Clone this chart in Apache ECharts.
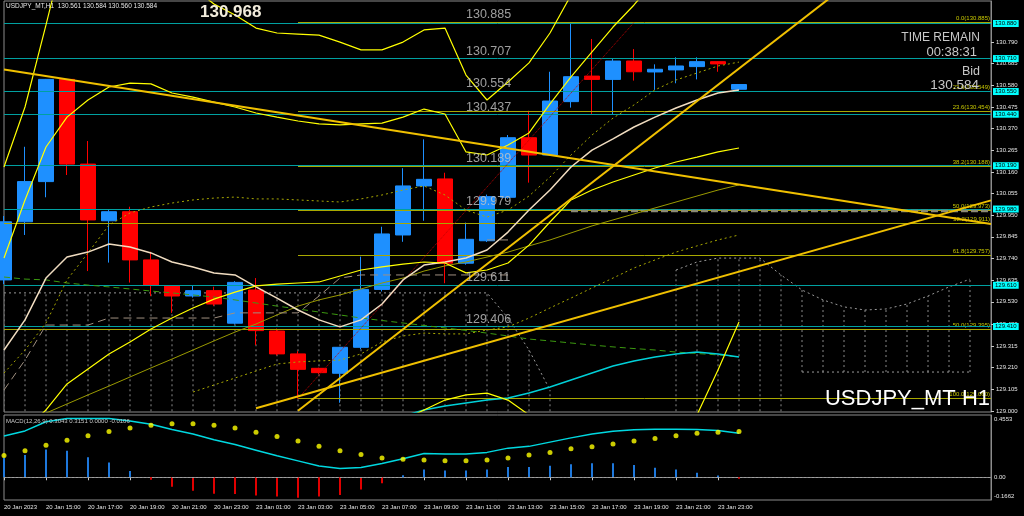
<!DOCTYPE html>
<html><head><meta charset="utf-8">
<script src="https://cdn.jsdelivr.net/npm/echarts@6/dist/echarts.min.js"></script>
<style>html,body{margin:0;padding:0;background:#000;}#c{width:1024px;height:516px;}</style>
</head><body><div id="c"></div>
<script>
// ---------- categories (H1 bars + future slots) ----------
const categories = ['20 Jan 2023','20 Jan 14:00','20 Jan 15:00','20 Jan 16:00','20 Jan 17:00','20 Jan 18:00','20 Jan 19:00','20 Jan 20:00','20 Jan 21:00','20 Jan 22:00','20 Jan 23:00','23 Jan 00:00','23 Jan 01:00','23 Jan 02:00','23 Jan 03:00','23 Jan 04:00','23 Jan 05:00','23 Jan 06:00','23 Jan 07:00','23 Jan 08:00','23 Jan 09:00','23 Jan 10:00','23 Jan 11:00','23 Jan 12:00','23 Jan 13:00','23 Jan 14:00','23 Jan 15:00','23 Jan 16:00','23 Jan 17:00','23 Jan 18:00','23 Jan 19:00','23 Jan 20:00','23 Jan 21:00','23 Jan 22:00','23 Jan 23:00','24 Jan 00:00','+1','+2','+3','+4','+5','+6','+7','+8','+9','+10','+11','+12'];

// ---------- OHLC ----------
const opens  = [129.636,129.918,130.113,130.609,130.198,129.923,129.967,129.733,129.607,129.558,129.584,129.426,129.587,129.388,129.277,129.207,129.183,129.309,129.590,129.854,130.092,130.126,129.717,129.826,130.037,130.326,130.242,130.501,130.625,130.609,130.698,130.645,130.655,130.671,130.695,130.561];
const closes = [129.918,130.113,130.609,130.198,129.927,129.967,129.733,129.611,129.558,129.584,129.519,129.624,129.390,129.277,129.202,129.186,129.309,129.590,129.859,130.092,130.124,129.717,129.833,130.040,130.326,130.242,130.504,130.622,130.609,130.698,130.646,130.658,130.674,130.695,130.684,130.584];
const lows   = [129.616,129.854,130.037,130.145,129.679,129.720,129.623,129.558,129.476,129.550,129.510,129.420,129.320,129.270,129.060,129.180,129.040,129.300,129.580,129.821,129.923,129.620,129.710,129.820,130.030,130.108,130.240,130.472,130.440,130.440,130.603,130.558,130.590,130.609,130.646,130.560];
const highs  = [129.946,130.282,130.611,130.611,130.310,129.975,129.991,129.773,129.611,129.611,129.603,129.630,129.645,129.400,129.290,129.210,129.310,129.749,129.894,130.178,130.318,130.156,129.914,130.050,130.339,130.457,130.646,130.885,130.805,130.711,130.756,130.682,130.716,130.716,130.697,130.584];

// ---------- indicator lines (price) ----------
const maBeige   = [129.296,129.442,129.645,129.747,129.771,129.810,129.796,129.767,129.723,129.699,129.670,129.660,129.602,129.548,129.490,129.442,129.408,129.442,129.519,129.636,129.708,129.723,129.742,129.781,129.868,129.975,130.072,130.184,130.266,130.320,130.378,130.426,130.470,130.509,130.543,130.558];
const dotUpper  = [129.184,129.296,129.427,129.636,129.767,129.902,129.961,129.990,130.009,130.024,130.033,130.038,130.029,130.029,130.024,130.019,130.014,130.029,130.048,130.072,130.092,130.048,129.975,129.941,129.975,130.043,130.135,130.242,130.339,130.421,130.485,130.558,130.606,130.640,130.674,130.693];
const bandOuterUp = [130.184,130.475,130.873,131.285,131.382,131.382,131.334,131.261,131.164,131.052,130.975,130.921,130.858,130.834,130.829,130.824,130.790,130.752,130.752,130.790,130.849,130.858,130.630,130.509,130.596,130.689,130.834,131.018,131.200,131.350,131.450,131.500,131.500,131.500,131.500,131.500];
const bandUp    = [129.742,130.024,130.281,130.426,130.509,130.572,130.591,130.587,130.543,130.523,130.499,130.475,130.446,130.426,130.407,130.393,130.388,130.393,130.397,130.426,130.465,130.441,130.257,130.242,130.291,130.349,130.490,130.621,130.742,130.863,130.970,131.091,131.200,131.300,131.400,131.500];
const bandLow   = [128.835,128.908,129.005,129.131,129.204,129.277,129.335,129.398,129.451,129.500,129.543,129.577,129.607,129.616,129.621,129.626,129.655,129.684,129.699,129.713,129.723,129.718,129.670,129.684,129.718,129.805,129.917,130.024,130.072,130.111,130.145,130.179,130.208,130.232,130.257,130.276];
const bandOuterLow = [null,null,null,null,null,null,null,null,null,null,null,null,null,null,null,null,null,null,null,128.956,129.005,129.053,129.078,129.087,129.053,128.981,128.908,128.850,128.830,128.830,128.830,128.840,128.870,128.981,129.199,129.432];
const greenDash = [129.650,129.640,129.636,129.621,129.611,129.602,129.592,129.582,129.573,129.563,129.553,129.539,129.524,129.509,129.495,129.480,129.466,129.451,129.439,129.427,129.415,129.403,129.391,129.378,129.364,129.349,129.340,129.330,129.320,129.311,129.303,129.296,129.286,129.279,129.272,129.262];
const cyanMA    = [null,null,null,null,null,null,null,null,null,null,null,null,null,null,null,null,null,128.910,128.940,128.975,129.005,129.024,129.039,129.053,129.063,129.087,129.116,129.150,129.184,129.218,129.243,129.262,129.277,129.286,129.277,129.262];
const oliveLine = [null,null,128.990,129.034,129.078,129.121,129.165,129.209,129.252,129.296,129.340,129.383,129.422,129.466,129.509,129.539,129.563,129.592,129.621,129.645,129.679,129.704,129.723,129.747,129.771,129.801,129.830,129.864,129.898,129.927,129.956,129.985,130.014,130.043,130.072,130.097];
const dotLower  = [null,null,null,null,null,null,null,null,null,129.092,129.126,129.160,129.194,129.228,129.238,129.243,129.247,129.277,129.335,129.364,129.378,129.374,129.374,129.393,129.408,129.451,129.500,129.548,129.597,129.645,129.694,129.733,129.771,129.801,129.830,129.854];
const kijunDash = [129.102,129.247,129.417,129.417,129.417,129.451,129.451,129.451,129.451,129.451,129.451,129.476,129.476,129.476,129.476,129.558,129.645,129.660,129.660,129.660,129.660,129.660,129.660,129.660,129.660];
const tenkanDash = [null,null,null,null,null,null,null,null,null,null,null,null,null,null,null,null,null,null,null,null,null,null,null,129.830,129.830];
const cloudTop    = [129.573,129.573,129.573,129.573,129.573,129.573,129.573,129.573,129.573,129.573,129.573,129.573,129.573,129.573,129.573,129.573,129.573,129.573,129.573,129.573,129.573,129.573,129.573,129.573,129.451,129.296,129.102,null,null,null,null,null,129.684,129.723,129.742,129.742,129.742,129.660,129.587,129.539,129.505,129.490,129.495,129.519,129.558,129.602,129.640];
const cloudBottom = [128.950,128.950,128.950,128.950,128.950,128.950,128.950,128.950,128.950,128.950,128.950,128.950,128.950,128.950,128.950,128.950,128.950,128.950,128.950,128.950,128.950,128.950,128.950,128.950,128.950,128.950,128.950,null,null,null,null,null,128.950,128.950,128.950,128.950,128.950,128.950,129.189,129.189,129.189,129.189,129.189,129.189,129.189,129.189,129.189];

// ---------- trend lines: [index, price] end points ----------
const trendDown  = [[0,130.657],[47,129.907]];
const trendSteep = [[14,129.001],[40,131.057]];
const trendGentle= [[12,129.013],[47,130.022]];
const grayDashBand = [[27,129.970],[47,129.970]];

// ---------- horizontal levels ----------
const levels = [130.885,130.707,130.554,130.437,130.189,129.979,129.611,129.406];
const bidPrice = 130.584;
const fibAPct = [0.0,23.6,38.2,50.0,61.8,100.0];
const fibAPrice = [130.885,130.454,130.188,129.973,129.757,129.060];
const fibBPct = [23.6,38.2,50.0];
const fibBPrice = [130.549,129.911,129.395];
const fibAStart = 14, fibAEndIdx = 30;
const levelTextIdx = 22;

// ---------- price axis tick labels ----------
const priceTicks = [129.000,129.105,129.210,129.315,129.420,129.530,129.635,129.740,129.845,129.950,130.055,130.160,130.265,130.370,130.475,130.580,130.685,130.790];

// ---------- MACD ----------
const macdHist = [0.141,0.162,0.203,0.193,0.147,0.108,0.046,-0.018,-0.069,-0.098,-0.121,-0.123,-0.134,-0.141,-0.149,-0.141,-0.129,-0.090,-0.044,0.015,0.057,0.049,0.049,0.057,0.075,0.075,0.085,0.095,0.103,0.103,0.090,0.069,0.057,0.033,0.013,-0.0106];
const macdLine = [0.301,0.339,0.406,0.429,0.429,0.429,0.411,0.388,0.350,0.316,0.275,0.239,0.198,0.157,0.120,0.082,0.064,0.072,0.100,0.136,0.174,0.170,0.170,0.182,0.213,0.226,0.257,0.288,0.316,0.336,0.347,0.352,0.352,0.350,0.342,0.321];
const macdSignal = [0.159,0.193,0.234,0.270,0.303,0.334,0.360,0.380,0.391,0.391,0.380,0.360,0.329,0.298,0.265,0.226,0.193,0.167,0.141,0.131,0.126,0.121,0.121,0.126,0.141,0.162,0.182,0.208,0.224,0.244,0.265,0.283,0.303,0.321,0.329,0.334];
const macdTicks = [0.4553,0,-0.1662];

// ================= build =================
const FONT = "'Liberation Sans', Arial, sans-serif";
const chart = echarts.init(document.getElementById('c'), null, {renderer:'canvas'});
const candleData = opens.map((o,i)=>[o, closes[i], lows[i], highs[i]]);
const lblIdx = (i)=> i % 2 === 0 && i <= 34;

function lineS(data, color, width, type, z, extra){
  return Object.assign({type:'line', xAxisIndex:0, yAxisIndex:0, data:data, symbol:'none', showSymbol:false,
    silent:true, animation:false, z:z||5, lineStyle:{color:color, width:width, type:type||'solid'}}, extra||{});
}

const hatchData = [];
cloudTop.forEach((t,i)=>{ if(t!=null && cloudBottom[i]!=null) hatchData.push([i, cloudBottom[i], t]); });

const fibLines = [];
fibAPrice.forEach((p,k)=>{
  fibLines.push([{coord:[fibAStart,p], name: fibAPct[k].toFixed(1)+'('+p.toFixed(3)+')'},{coord:[47,p]}]);
});
fibBPrice.forEach((p,k)=>{
  fibLines.push([{coord:[0,p], name: fibBPct[k].toFixed(1)+'('+p.toFixed(3)+')'},{coord:[47,p]}]);
});

const levelMarks = levels.map(v=>({yAxis:v}));
levelMarks.push({yAxis:bidPrice, lineStyle:{opacity:0}, label:{backgroundColor:'#ffffff'}});

const option = {
  backgroundColor:'#000000',
  animation:false,
  grid:[
    {left:4, top:1, width:987, height:411, show:true, borderColor:'#8c8c8c', borderWidth:1, backgroundColor:'transparent'},
    {left:4, top:415, width:987, height:85, show:true, borderColor:'#8c8c8c', borderWidth:1, backgroundColor:'transparent'}
  ],
  xAxis:[
    {type:'category', gridIndex:0, data:categories, boundaryGap:false,
     axisLine:{show:false}, axisTick:{show:false}, axisLabel:{show:false}, splitLine:{show:false}},
    {type:'category', gridIndex:1, data:categories, boundaryGap:false,
     axisLine:{show:true, lineStyle:{color:'#8c8c8c'}},
     axisTick:{show:true, interval:lblIdx, length:3, lineStyle:{color:'#c8c8c8'}},
     axisLabel:{interval:lblIdx, align:'left', color:'#e6e6e6', fontSize:6, fontFamily:FONT, margin:4,
       formatter:(v)=> v.charAt(0)==='+' ? '' : v},
     splitLine:{show:false}}
  ],
  yAxis:[
    {type:'value', gridIndex:0, position:'right', min:128.9951, max:130.9893, scale:true,
     axisLine:{show:true, lineStyle:{color:'#8c8c8c'}},
     axisTick:{show:true, customValues:priceTicks, length:3, lineStyle:{color:'#c8c8c8'}},
     axisLabel:{show:true, customValues:priceTicks, formatter:(v)=>v.toFixed(3), color:'#e6e6e6', fontSize:6, fontFamily:FONT, margin:5},
     splitLine:{show:false}},
    {type:'value', gridIndex:1, position:'right', min:-0.1662, max:0.4553,
     axisLine:{show:true, lineStyle:{color:'#8c8c8c'}},
     axisTick:{show:false},
     axisLabel:{show:true, customValues:macdTicks, color:'#e6e6e6', fontSize:6, fontFamily:FONT, margin:3,
       formatter:(v)=> v===0 ? '{z|0.00}' : (v>0 ? '{t|'+v.toFixed(4)+'}' : '{b|'+v.toFixed(4)+'}'),
       rich:{t:{padding:[9,0,0,0], fontSize:6, color:'#e6e6e6'}, z:{fontSize:6, color:'#e6e6e6'}, b:{padding:[0,0,7,0], fontSize:6, color:'#e6e6e6'}}},
     splitLine:{show:false}}
  ],
  series:[
    {type:'custom', xAxisIndex:0, yAxisIndex:0, data:hatchData, clip:true, silent:true, z:2,
     encode:{x:0, y:[1,2]},
     renderItem:(params, api)=>{
       const a = api.coord([api.value(0), api.value(1)]);
       const b = api.coord([api.value(0), api.value(2)]);
       return {type:'line', shape:{x1:a[0], y1:a[1], x2:b[0], y2:b[1]},
         style:{stroke:'#8a8a8a', lineWidth:1, lineDash:[2,3]}};
     }},
    lineS(cloudTop, '#9a9a9a', 1, [2,3], 3),
    lineS(cloudBottom.map((v,i)=> i>=38 ? v : null), '#9a9a9a', 1, [2,3], 3),
    {type:'candlestick', xAxisIndex:0, yAxisIndex:0, data:candleData, barWidth:16, z:4, silent:true, clip:true,
     itemStyle:{color:'#1e90ff', color0:'#ff0000', borderColor:'#1e90ff', borderColor0:'#ff0000', borderWidth:1},
     markLine:{symbol:'none', silent:true, animation:false, z:6,
       lineStyle:{color:'#00a0a0', width:1, type:'solid'},
       label:{position:'end', distance:2, formatter:(p)=>p.value.toFixed(3), backgroundColor:'#00ffff', color:'#000',
         fontSize:6, fontFamily:FONT, padding:[1,2,0,2]},
       data:levelMarks}},
    lineS([[fibAStart, fibAPrice[fibAPrice.length-1]],[fibAEndIdx, fibAPrice[0]]], '#c00000', 1, 'dotted', 6, {
      markLine:{symbol:'none', silent:true, animation:false,
        lineStyle:{color:'#a8a800', width:1, type:'solid'},
        label:{position:'insideEndTop', distance:1, formatter:'{b}', color:'#c8c800', fontSize:6, fontFamily:FONT},
        data:fibLines}}),
    lineS(grayDashBand, '#8c8c74', 2.5, [7,3], 6),
    lineS(greenDash, '#3c9a10', 1, [6,4], 7),
    lineS(cyanMA, '#00d0d8', 1.5, 'solid', 7),
    lineS(oliveLine, '#9a9a00', 1, 'solid', 7),
    lineS(dotLower, '#a8a800', 1, [2,3], 7),
    lineS(dotUpper, '#a8a800', 1, [2,3], 7),
    lineS(kijunDash, '#a09080', 1, [8,5], 7),
    lineS(tenkanDash, '#a09080', 1, [8,5], 7),
    lineS(maBeige, '#f0dcc0', 1.5, 'solid', 8),
    lineS(bandOuterUp, '#ffff00', 1.2, 'solid', 8),
    lineS(bandUp, '#ffff00', 1.2, 'solid', 8),
    lineS(bandLow, '#ffff00', 1.2, 'solid', 8),
    lineS(bandOuterLow, '#ffff00', 1.2, 'solid', 8),
    lineS(trendDown, '#f0c000', 2, 'solid', 9),
    lineS(trendSteep, '#f0c000', 2, 'solid', 9),
    lineS(trendGentle, '#f0c000', 2, 'solid', 9),
    {type:'scatter', xAxisIndex:0, yAxisIndex:0, symbolSize:0, silent:true, z:10,
     data: levels.map(v=>[levelTextIdx, v]),
     label:{show:true, position:[0,-1], align:'left', verticalAlign:'bottom', color:'#c4c4c4', fontSize:12.5, fontFamily:FONT,
       formatter:(p)=>p.value[1].toFixed(3)}},
    {type:'bar', xAxisIndex:1, yAxisIndex:1, data: macdHist.map(v=>({value:v, itemStyle:{color: v>=0 ? '#1e78dc' : '#e00000'}})),
     barWidth:2, silent:true, z:3,
     markLine:{symbol:'none', silent:true, label:{show:false}, lineStyle:{color:'#a0a0a0', type:[2,2], width:1}, data:[{yAxis:0}]}},
    {type:'line', xAxisIndex:1, yAxisIndex:1, data:macdLine, symbol:'none', silent:true, z:4,
     lineStyle:{color:'#00d8e0', width:1.5}},
    {type:'scatter', xAxisIndex:1, yAxisIndex:1, data:macdSignal, symbolSize:5, silent:true, z:5,
     itemStyle:{color:'#ffff00'}}
  ],
  graphic:[
    {type:'text', left:6, top:3, z:20, style:{text:'USDJPY_MT,H1  130.561 130.584 130.560 130.584', fill:'#e6e6e6', font:'6.5px '+FONT}},
    {type:'text', left:200, top:4, z:20, style:{text:'130.968', fill:'#f2ecdc', font:'bold 17px '+FONT}},
    {type:'text', right:44, top:32, z:20, style:{text:'TIME REMAIN', fill:'#c8c8c8', font:"12px 'Liberation Sans Narrow', "+FONT}},
    {type:'text', right:47, top:46, z:20, style:{text:'00:38:31', fill:'#c8c8c8', font:'13px '+FONT}},
    {type:'text', right:44, top:65, z:20, style:{text:'Bid', fill:'#c8c8c8', font:"12.5px 'Liberation Sans Narrow', "+FONT}},
    {type:'text', right:45, top:78, z:20, style:{text:'130.584', fill:'#c8c8c8', font:'13.5px '+FONT}},
    {type:'text', right:34, top:388, z:20, style:{text:'USDJPY_MT H1', fill:'#ffffff', font:'22px '+FONT}},
    {type:'text', left:6, top:418, z:20, style:{text:'MACD(12,26,9) 0.3043 0.3151 0.0000 -0.0106', fill:'#c8c8c8', font:'6px '+FONT}}
  ]
};
chart.setOption(option);
</script>
</body></html>
